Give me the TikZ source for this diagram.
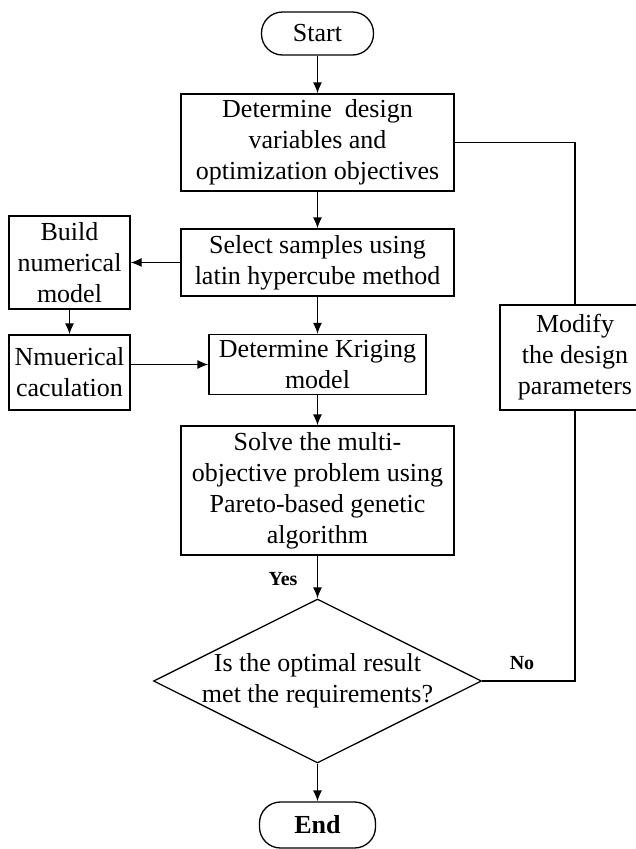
\documentclass[tikz,border=0pt]{standalone}
\usepackage{fontspec}
\setmainfont{Liberation Serif}
\usetikzlibrary{shapes.geometric,arrows.meta}
\begin{document}
\begin{tikzpicture}[x=1pt,y=-1pt,
  box/.style={draw,line width=1.3pt,rectangle,inner sep=0pt,align=center,font=\fontsize{26}{31}\selectfont},
  term/.style={box,rounded corners=21pt},
  dia/.style={draw,line width=1.3pt,diamond,inner sep=0pt,minimum width=328pt,minimum height=164pt},
  arr/.style={line width=1.3pt,-{Latex[length=11pt,width=9pt]}},
  ln/.style={line width=1.3pt},
  txt/.style={align=center,inner sep=0pt,font=\fontsize{26}{31}\selectfont},
  lbl/.style={inner sep=0pt,font=\fontsize{20}{23}\selectfont\bfseries}]
\clip (0,0) rectangle (636,849);
\fill[white] (0,0) rectangle (636,849);

\node[term,minimum width=112pt,minimum height=43pt] (start) at (317.5,33.5) {Start};
\node[box,minimum width=273pt,minimum height=97pt] (det) at (317.5,142.5) {Determine\ \ design\\variables and\\optimization objectives};
\node[box,minimum width=273pt,minimum height=67pt] (sel) at (317.5,262.5) {Select samples using\\latin hypercube method};
\node[box,minimum width=121pt,minimum height=93pt] (build) at (69.5,262.5) {Build\\numerical\\model};
\node[box,minimum width=121pt,minimum height=75pt] (num) at (69.5,372.5) {Nmuerical\\caculation};
\node[box,minimum width=217pt,minimum height=60pt] (krig) at (317.5,364.5) {Determine Kriging\\model};
\node[box,minimum width=150pt,minimum height=105pt] (mod) at (575,357.5) {Modify\\the design\\parameters};
\node[box,minimum width=273pt,minimum height=129pt] (solve) at (317.5,490.5) {Solve the multi-\\objective problem using\\Pareto-based genetic\\algorithm};
\node[dia] (dec) at (317.5,681) {};
\node[txt] (dectxt) at (317.5,681) {Is the optimal result\\met the requirements?};
\node[term,minimum width=116pt,minimum height=46pt,font=\fontsize{26}{31}\selectfont\bfseries] (end) at (317.5,825) {End};

\draw[arr] (start.south) -- (det.north);
\draw[arr] (det.south) -- (sel.north);
\draw[arr] (sel.west) -- (build.east);
\draw[arr] (build.south) -- (num.north);
\draw[arr] (sel.south) -- (krig.north);
\draw[arr] (num.east |- krig.west) -- (krig.west);
\draw[arr] (krig.south) -- (solve.north);
\draw[arr] (solve.south) -- (dec.north);
\draw[arr] (dec.south) -- (end.north);
\draw[ln] (dec.east) -| (mod.south);
\draw[ln] (mod.north) |- (det.east);

\node[lbl] (yes) at (283,579) {Yes};
\node[lbl] (no) at (522,663) {No};
\end{tikzpicture}
\end{document}
